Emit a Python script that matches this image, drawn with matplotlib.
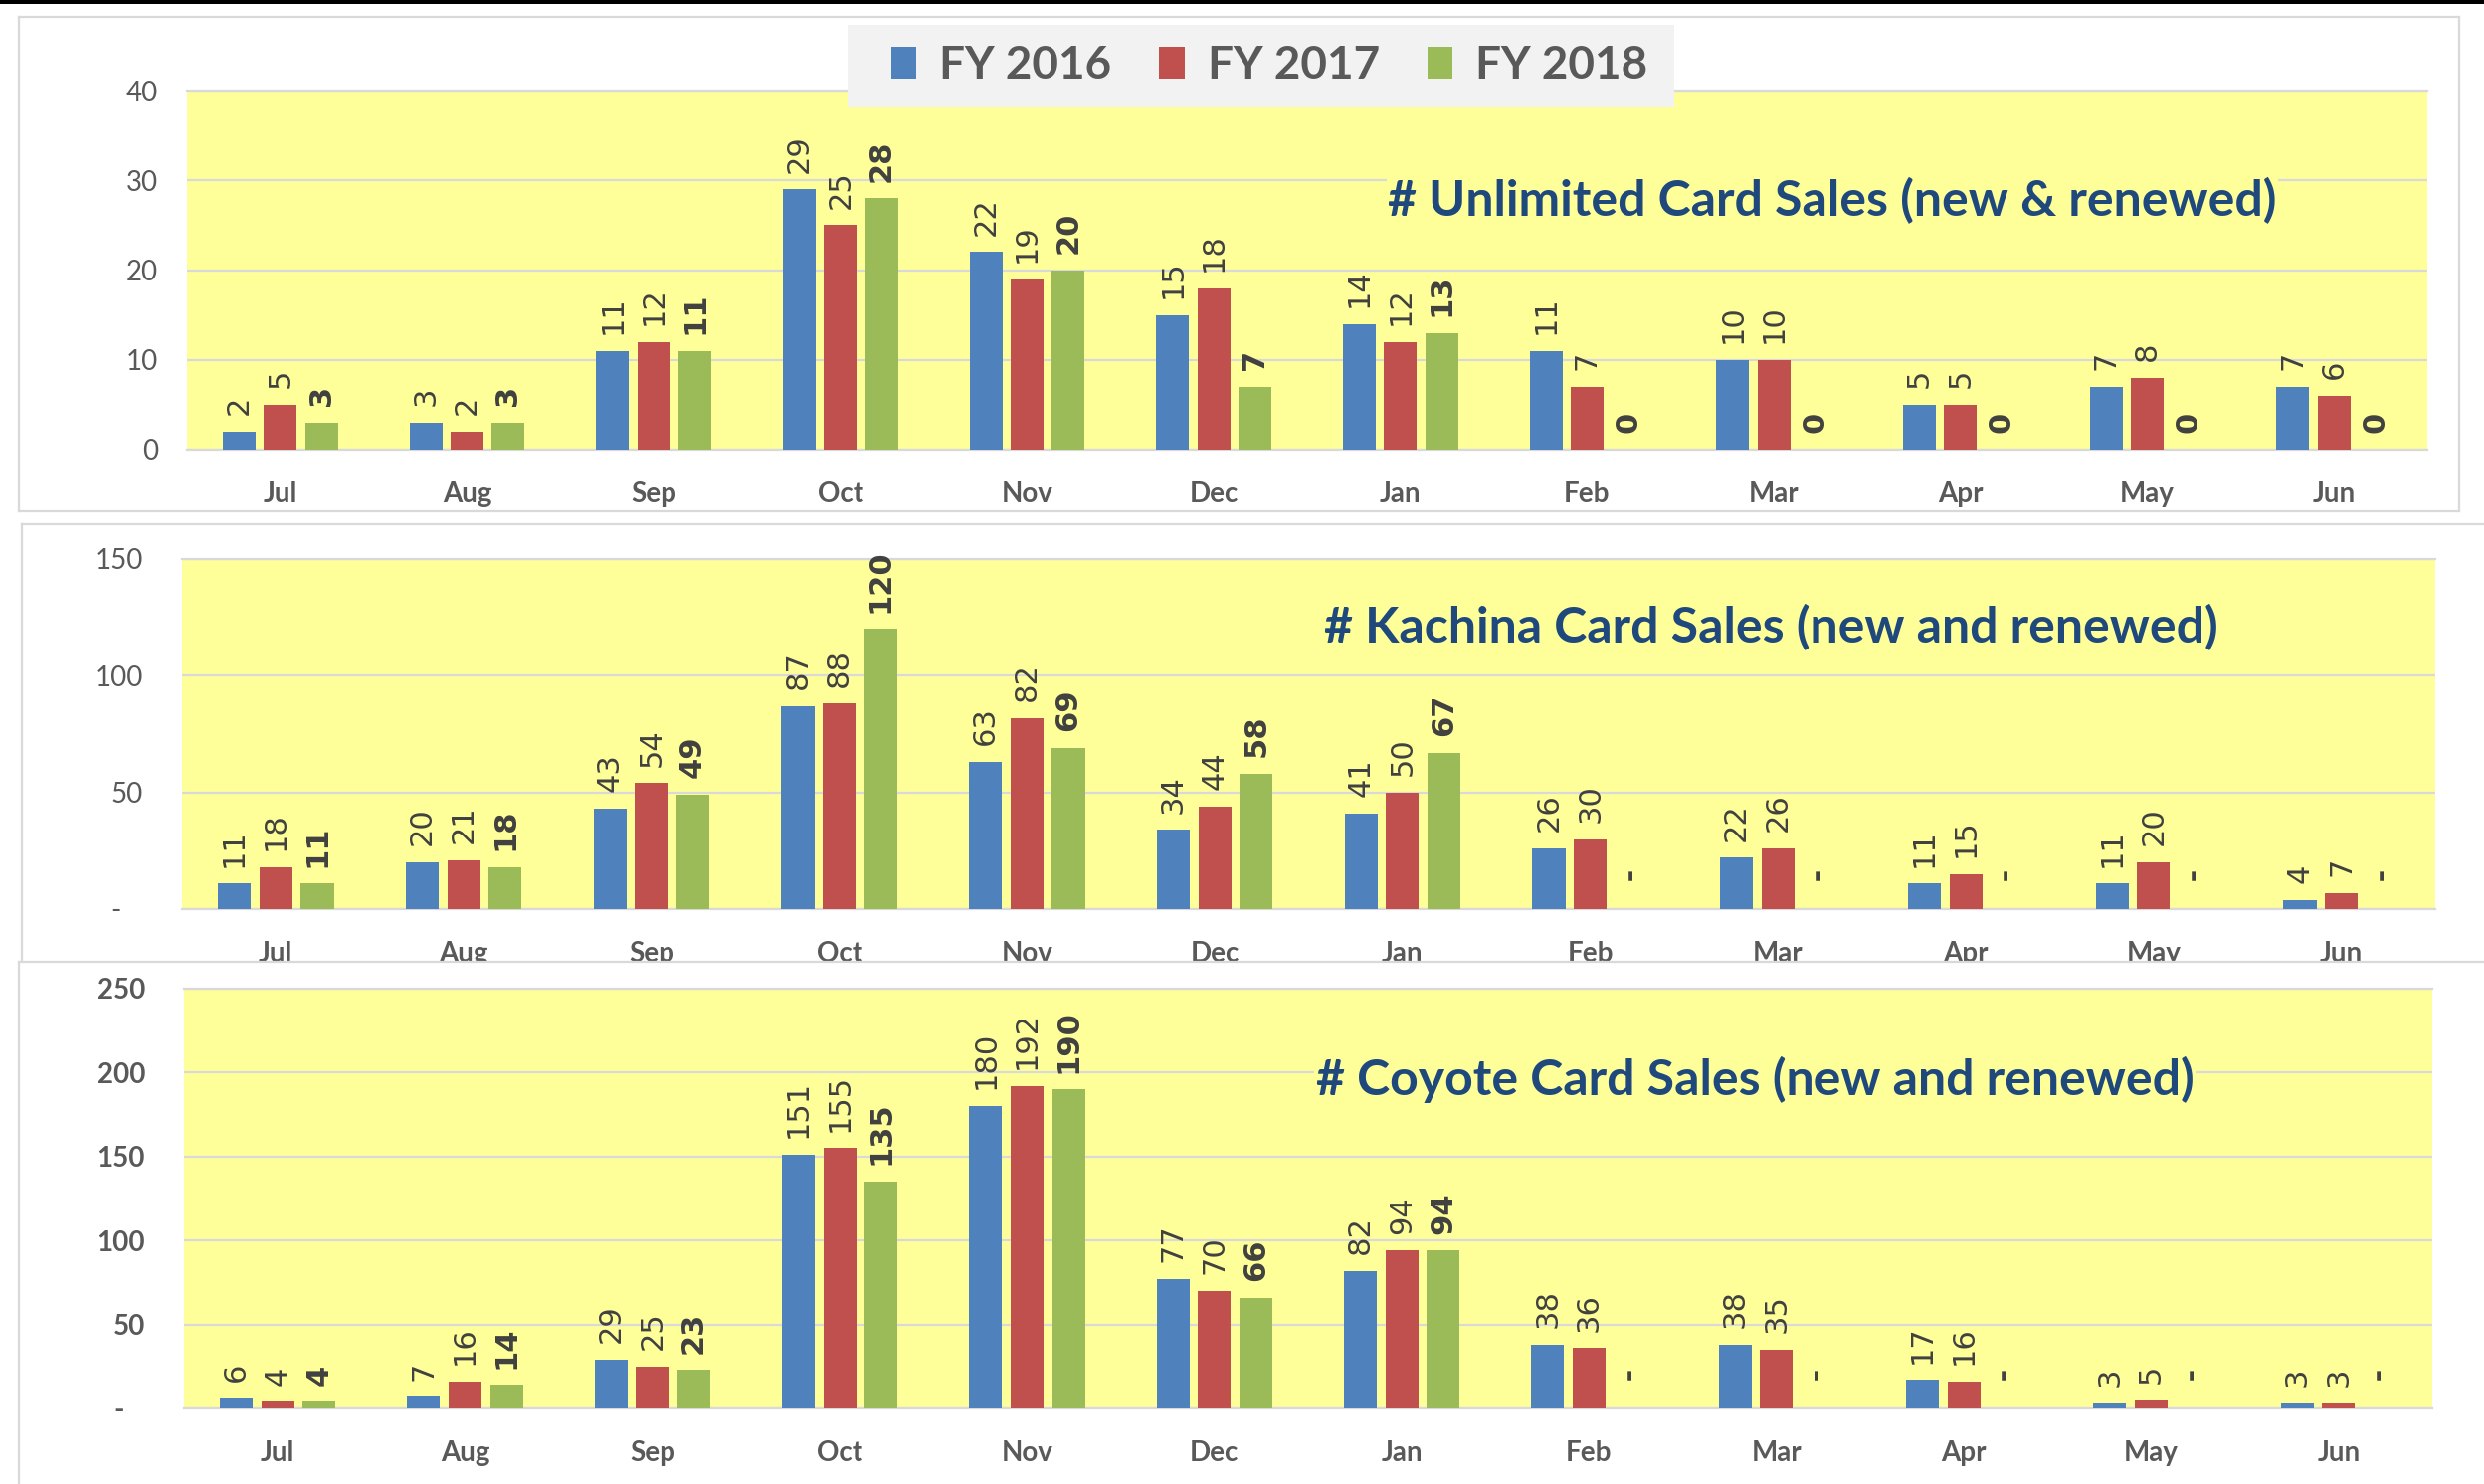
import matplotlib.pyplot as plt
import numpy as np
from matplotlib.patches import Patch, Rectangle

months = ["Jul", "Aug", "Sep", "Oct", "Nov", "Dec", "Jan", "Feb", "Mar", "Apr", "May", "Jun"]
years = ["FY 2016", "FY 2017", "FY 2018"]
colors = ["#4F81BD", "#C0504D", "#9BBB59"]

unlimited_2016 = [2, 3, 11, 29, 22, 15, 14, 11, 10, 5, 7, 7]
unlimited_2017 = [5, 2, 12, 25, 19, 18, 12, 7, 10, 5, 8, 6]
unlimited_2018 = [3, 3, 11, 28, 20, 7, 13, 0, 0, 0, 0, 0]

kachina_2016 = [11, 20, 43, 87, 63, 34, 41, 26, 22, 11, 11, 4]
kachina_2017 = [18, 21, 54, 88, 82, 44, 50, 30, 26, 15, 20, 7]
kachina_2018 = [11, 18, 49, 120, 69, 58, 67, 0, 0, 0, 0, 0]

coyote_2016 = [6, 7, 29, 151, 180, 77, 82, 38, 38, 17, 3, 3]
coyote_2017 = [4, 16, 25, 155, 192, 70, 94, 36, 35, 16, 5, 3]
coyote_2018 = [4, 14, 23, 135, 190, 66, 94, 0, 0, 0, 0, 0]

unlimited_ticks = [0, 10, 20, 30, 40]
unlimited_tick_labels = ["0", "10", "20", "30", "40"]
kachina_ticks = [0, 50, 100, 150]
kachina_tick_labels = ["-   ", "50", "100", "150"]
coyote_ticks = [0, 50, 100, 150, 200, 250]
coyote_tick_labels = ["-   ", "50", "100", "150", "200", "250"]

W, H = 2497, 1492
GRID = "#D9D9D9"
TEXT = "#595959"

plt.rcParams["font.family"] = ["Lato", "DejaVu Sans"]


def px_rect(x0, y0, x1, y1):
    return [x0 / W, 1 - y1 / H, (x1 - x0) / W, (y1 - y0) / H]


def add_frame(fig, rect):
    bg = fig.add_axes(rect)
    bg.set_facecolor("white")
    bg.set_xticks([])
    bg.set_yticks([])
    for spine in bg.spines.values():
        spine.set_color(GRID)
        spine.set_linewidth(1.6)


def plot_panel(ax, series, ticks, tick_labels, tick_bold, tick_pad, title, title_xy, zero_label):
    x = np.arange(len(months))
    for i, values in enumerate(series):
        pos = x + (i - 1) * 0.221
        ax.bar(pos, values, width=0.176, color=colors[i], zorder=3)
        for xi, v in zip(pos, values):
            label = str(v) if v or zero_label is None else zero_label
            ax.annotate(
                label, (xi, v), xytext=(0, 12), textcoords="offset points",
                rotation=90, ha="center", va="bottom", fontsize=22,
                family="DejaVu Sans", fontweight="bold" if i == 2 else "normal",
                color="#404040", zorder=5,
            )

    ax.set_facecolor("#FFFF99")
    ax.set_xlim(-0.5, len(months) - 0.5)
    ax.set_ylim(0, ticks[-1])
    ax.set_xticks(x)
    ax.set_xticklabels(months, fontsize=20, fontweight="bold", color=TEXT)
    ax.set_yticks(ticks)
    ax.set_yticklabels(tick_labels, fontsize=20, color=TEXT,
                       fontweight="bold" if tick_bold else "normal")
    ax.tick_params(axis="x", length=0, pad=23)
    ax.tick_params(axis="y", length=0, pad=tick_pad)
    ax.yaxis.grid(True, color=GRID, linewidth=1.6, zorder=0)
    ax.set_axisbelow(True)
    for side in ["left", "right"]:
        ax.spines[side].set_visible(False)
    for side in ["top", "bottom"]:
        ax.spines[side].set_color(GRID)
        ax.spines[side].set_linewidth(1.6)

    tx, ty = title_xy
    ax.text(tx / W, 1 - ty / H, title, transform=ax.figure.transFigure,
            ha="center", va="baseline", fontsize=36, fontweight="bold",
            color="#1F497D", zorder=4,
            bbox=dict(facecolor="#FFFF99", edgecolor="none", pad=1))


fig = plt.figure(figsize=(W / 100, H / 100), dpi=100)

add_frame(fig, px_rect(19, 17, 2472, 514))
ax1 = fig.add_axes(px_rect(188, 91, 2440, 452))
plot_panel(ax1, [unlimited_2016, unlimited_2017, unlimited_2018],
           unlimited_ticks, unlimited_tick_labels, False, 21,
           "# Unlimited Card Sales (new & renewed)", (1842, 217), None)

add_frame(fig, px_rect(22, 527, 2510, 1000))
ax2 = fig.add_axes(px_rect(183, 562, 2448, 914))
plot_panel(ax2, [kachina_2016, kachina_2017, kachina_2018],
           kachina_ticks, kachina_tick_labels, False, 28,
           "# Kachina Card Sales (new and renewed)", (1780, 646), " -")

add_frame(fig, px_rect(19, 967, 2510, 1510))
ax3 = fig.add_axes(px_rect(185, 994, 2445, 1416))
plot_panel(ax3, [coyote_2016, coyote_2017, coyote_2018],
           coyote_ticks, coyote_tick_labels, True, 28,
           "# Coyote Card Sales (new and renewed)", (1764, 1101), " -")

# black strip along the top edge
fig.patches.append(Rectangle((0, 1 - 4 / H), 1, 4 / H, transform=fig.transFigure,
                             facecolor="black", edgecolor="none"))

# legend box
fig.patches.append(Rectangle((852 / W, 1 - 108 / H), (1683 - 852) / W, 83 / H,
                             transform=fig.transFigure, facecolor="#F2F2F2",
                             edgecolor="none", zorder=4))
handles = [Patch(facecolor=c, edgecolor="none") for c in colors]
leg = fig.legend(handles, years, loc="center", bbox_to_anchor=(1276 / W, 1 - 66 / H),
                 ncol=3, frameon=False, handlelength=0.55, handleheight=0.7,
                 handletextpad=0.5, columnspacing=1.05,
                 prop=dict(family="Lato", weight="bold", size=33))
for t in leg.get_texts():
    t.set_color(TEXT)
leg.set_zorder(5)

fig.savefig("out.png", dpi=100)
